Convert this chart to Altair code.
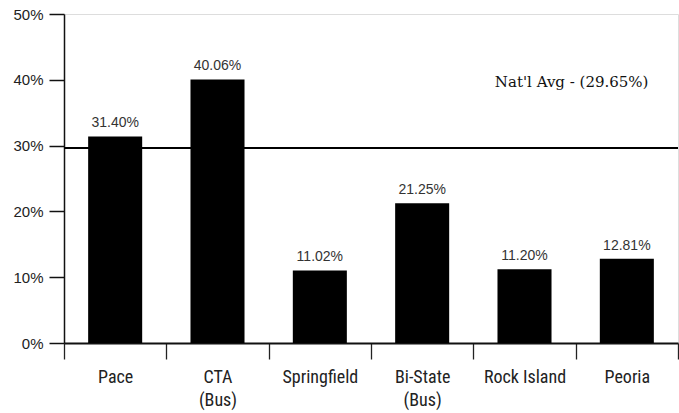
import altair as alt
import pandas as pd

agencies = ["Pace", "CTA\n(Bus)", "Springfield", "Bi-State\n(Bus)", "Rock Island", "Peoria"]
values = [31.40, 40.06, 11.02, 21.25, 11.20, 12.81]
nat_avg = [29.65]
y_ticks = [0, 10, 20, 30, 40, 50]

df = pd.DataFrame({"agency": agencies, "value": values})
df["label"] = [f"{v:.2f}%" for v in values]
avg_df = pd.DataFrame({"avg": nat_avg, "agency": ["Peoria"]})
avg_df["label"] = [f"Nat'l Avg - ({v:.2f}%)" for v in nat_avg]

narrow = "Liberation Sans Narrow, Arial Narrow, Roboto Condensed, Liberation Sans"

x_enc = alt.X(
    "agency:N",
    sort=agencies,
    title=None,
    scale=alt.Scale(paddingInner=0, paddingOuter=0),
    axis=alt.Axis(
        tickBand="extent",
        tickSize=16,
        tickWidth=1.3,
        tickColor="#222",
        domainColor="#111",
        domainWidth=2,
        labelAngle=0,
        labelFont=narrow,
        labelFontSize=18,
        labelColor="#222",
        labelPadding=9,
        labelLineHeight=23,
        labelBaseline="top",
        labelExpr="split(datum.label, '\\n')",
    ),
)

y_enc = alt.Y(
    "value:Q",
    title=None,
    scale=alt.Scale(domain=[0, 50], nice=False),
    axis=alt.Axis(
        values=y_ticks,
        tickSize=15,
        tickWidth=1.5,
        tickColor="#111",
        domainColor="#111",
        domainWidth=1.5,
        labelExpr="datum.value + '%'",
        labelFont="Liberation Sans",
        labelFontSize=15,
        labelColor="#222",
        labelPadding=6,
        grid=False,
    ),
)

bars = alt.Chart(df).mark_bar(color="black", width={"band": 0.528}).encode(x=x_enc, y=y_enc)

bar_text = alt.Chart(df).mark_text(
    baseline="bottom", dy=-6, font="Liberation Sans", fontSize=14, color="#333"
).encode(x=alt.X("agency:N", sort=agencies), y="value:Q", text="label:N")

avg_rule = alt.Chart(avg_df).mark_rule(color="black", strokeWidth=2).encode(
    y=alt.Y("avg:Q")
)

avg_text = alt.Chart(avg_df).mark_text(
    baseline="middle", align="center", dy=-66, dx=-4,
    font="DejaVu Serif", fontSize=15, color="#111"
).encode(
    x=alt.X("agency:N", sort=agencies, bandPosition=0),
    y=alt.Y("avg:Q"),
    text="label:N",
)

chart = (
    alt.layer(bars, bar_text, avg_rule, avg_text)
    .properties(
        width=614,
        height=329,
        autosize=alt.AutoSizeParams(type="none"),
        padding={"left": 64, "top": 14, "right": 1, "bottom": 70},
    )
    .configure_view(stroke=None)
    .configure(background="white")
)

chart.save("out.html", embed_options={"renderer": "svg", "actions": False})
